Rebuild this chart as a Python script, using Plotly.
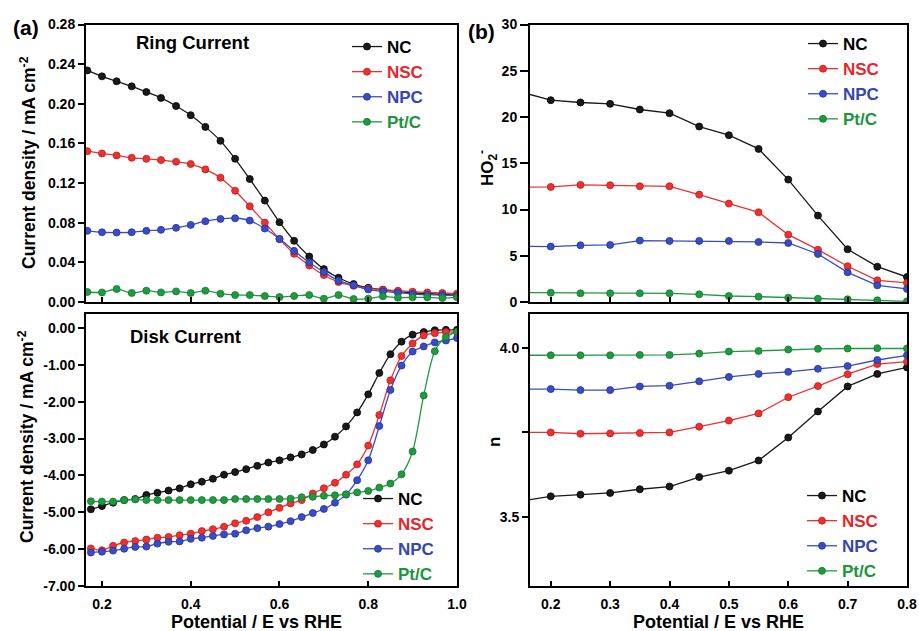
import plotly.graph_objects as go

# ---------------- data ----------------
SERIES = ["NC", "NSC", "NPC", "Pt/C"]

# (a) top: ring current, mA cm-2
RING_E = [0.167, 0.2, 0.233, 0.267, 0.3, 0.333, 0.367, 0.4, 0.433, 0.467, 0.5, 0.533, 0.567,
          0.6, 0.633, 0.667, 0.7, 0.733, 0.767, 0.8, 0.833, 0.867, 0.9, 0.933, 0.967, 1.0]
RING_NC = [0.2337, 0.2277, 0.2227, 0.2176, 0.2119, 0.2059, 0.1978, 0.1885, 0.1767, 0.1626, 0.1445,
           0.1241, 0.1023, 0.0805, 0.0617, 0.0459, 0.0332, 0.0245, 0.0181, 0.0144, 0.0124, 0.0107,
           0.0091, 0.0084, 0.0077, 0.0070]
RING_NSC = [0.1522, 0.1499, 0.1479, 0.1455, 0.1445, 0.1432, 0.1415, 0.1392, 0.1338, 0.1254, 0.1123,
            0.0966, 0.0801, 0.0634, 0.0486, 0.0369, 0.0272, 0.0201, 0.0164, 0.0137, 0.0124, 0.0114,
            0.0104, 0.0097, 0.0091, 0.0084]
RING_NPC = [0.0718, 0.0704, 0.0701, 0.0704, 0.0718, 0.0728, 0.0748, 0.0778, 0.0815, 0.0838, 0.0845,
            0.0822, 0.0741, 0.0637, 0.0516, 0.0399, 0.0302, 0.0215, 0.0168, 0.0127, 0.0107, 0.0094,
            0.0080, 0.0074, 0.0070, 0.0064]
RING_PTC = [0.0101, 0.0097, 0.0131, 0.0091, 0.0114, 0.0097, 0.0107, 0.0091, 0.0114, 0.0084, 0.0070,
            0.0070, 0.0060, 0.0050, 0.0060, 0.0070, 0.0034, 0.0070, 0.0030, 0.0034, 0.0057, 0.0044,
            0.0047, 0.0047, 0.0040, 0.0047]

# (a) bottom: disk current, mA cm-2
DISK_E = [0.175, 0.2, 0.225, 0.25, 0.275, 0.3, 0.325, 0.35, 0.375, 0.4, 0.425, 0.45, 0.475, 0.5,
          0.525, 0.55, 0.575, 0.6, 0.625, 0.65, 0.675, 0.7, 0.725, 0.75, 0.775, 0.8, 0.825, 0.85,
          0.875, 0.9, 0.925, 0.95, 0.975, 1.0]
DISK_NC = [-4.92, -4.83, -4.74, -4.67, -4.64, -4.53, -4.47, -4.41, -4.35, -4.24, -4.17, -4.09, -3.98,
           -3.91, -3.83, -3.74, -3.65, -3.59, -3.51, -3.43, -3.31, -3.16, -2.95, -2.67, -2.29, -1.80,
           -1.22, -0.71, -0.37, -0.18, -0.11, -0.06, -0.05, -0.05]
DISK_NSC = [-5.98, -6.03, -5.91, -5.82, -5.78, -5.74, -5.69, -5.67, -5.62, -5.58, -5.51, -5.46, -5.39,
            -5.30, -5.23, -5.13, -5.00, -4.88, -4.76, -4.67, -4.49, -4.35, -4.20, -3.98, -3.70, -3.19,
            -2.36, -1.42, -0.76, -0.42, -0.20, -0.14, -0.11, -0.11]
DISK_NPC = [-6.09, -6.07, -6.04, -5.99, -5.94, -5.93, -5.85, -5.80, -5.79, -5.72, -5.69, -5.64, -5.60,
            -5.58, -5.49, -5.43, -5.39, -5.32, -5.24, -5.13, -5.02, -4.91, -4.74, -4.52, -4.13, -3.59,
            -2.66, -1.68, -1.02, -0.64, -0.50, -0.39, -0.34, -0.27]
DISK_PTC = [-4.70, -4.71, -4.71, -4.67, -4.65, -4.67, -4.67, -4.67, -4.67, -4.67, -4.67, -4.67, -4.67,
            -4.64, -4.64, -4.64, -4.64, -4.64, -4.63, -4.59, -4.58, -4.55, -4.54, -4.51, -4.46, -4.42,
            -4.33, -4.22, -3.97, -3.35, -1.83, -0.63, -0.24, -0.10]

# (b) top: HO2- (%), (b) bottom: electron transfer number n
KL_E = [0.15, 0.2, 0.25, 0.3, 0.35, 0.4, 0.45, 0.5, 0.55, 0.6, 0.65, 0.7, 0.75, 0.8]
HO2_NC = [22.69, 21.82, 21.57, 21.42, 20.81, 20.41, 18.97, 18.03, 16.55, 13.23, 9.34, 5.70, 3.82, 2.70]
HO2_NSC = [12.40, 12.44, 12.66, 12.62, 12.51, 12.51, 11.61, 10.64, 9.70, 7.28, 5.66, 3.86, 2.34, 2.06]
HO2_NPC = [6.03, 5.99, 6.13, 6.17, 6.64, 6.60, 6.60, 6.60, 6.49, 6.38, 5.19, 3.21, 1.80, 1.41]
HO2_PTC = [1.01, 1.01, 0.94, 0.94, 0.94, 0.94, 0.83, 0.65, 0.58, 0.47, 0.36, 0.29, 0.18, 0.07]
N_NC = [3.547, 3.561, 3.566, 3.571, 3.582, 3.590, 3.618, 3.637, 3.667, 3.735, 3.812, 3.886, 3.923, 3.942]
N_NSC = [3.750, 3.750, 3.746, 3.747, 3.748, 3.750, 3.767, 3.785, 3.806, 3.854, 3.887, 3.922, 3.952, 3.959]
N_NPC = [3.878, 3.878, 3.875, 3.875, 3.886, 3.888, 3.901, 3.914, 3.923, 3.929, 3.938, 3.946, 3.964, 3.978]
N_PTC = [3.978, 3.978, 3.978, 3.978, 3.979, 3.979, 3.983, 3.989, 3.991, 3.995, 3.997, 3.998, 3.999, 3.998]

# tick labels
RING_TICKS = [0.0, 0.04, 0.08, 0.12, 0.16, 0.20, 0.24, 0.28]
RING_TICKTEXT = ["0.00", "0.04", "0.08", "0.12", "0.16", "0.20", "0.24", "0.28"]
DISK_TICKS = [0, -1, -2, -3, -4, -5, -6, -7]
DISK_TICKTEXT = ["0.00", "-1.00", "-2.00", "-3.00", "-4.00", "-5.00", "-6.00", "-7.00"]
LEFT_XTICKS = [0.2, 0.4, 0.6, 0.8, 1.0]
LEFT_XTICKTEXT = ["0.2", "0.4", "0.6", "0.8", "1.0"]
HO2_TICKS = [0, 5, 10, 15, 20, 25, 30]
N_TICKS = [3.5, 3.75, 4.0]
N_TICKTEXT = ["3.5", " ", "4.0"]
RIGHT_XTICKS = [0.2, 0.3, 0.4, 0.5, 0.6, 0.7, 0.8]

# ---------------- style ----------------
FONT = "Arial, Liberation Sans, sans-serif"
LINE_COLORS = {"NC": "#1a1a1a", "NSC": "#ee3030", "NPC": "#3a4cc4", "Pt/C": "#1f9a40"}
EDGE_COLORS = {"NC": "#000000", "NSC": "#c81818", "NPC": "#24339a", "Pt/C": "#117a2c"}
TEXT_COLORS = {"NC": "#000000", "NSC": "#e5262c", "NPC": "#3446b0", "Pt/C": "#1b963a"}

W, H = 919, 631


def px_x(p):
    return p / W


def px_y(p):
    return 1 - p / H


fig = go.Figure()

panels = [
    ("x", "y", "legend", RING_E, [RING_NC, RING_NSC, RING_NPC, RING_PTC]),
    ("x2", "y2", "legend2", DISK_E, [DISK_NC, DISK_NSC, DISK_NPC, DISK_PTC]),
    ("x3", "y3", "legend3", KL_E, [HO2_NC, HO2_NSC, HO2_NPC, HO2_PTC]),
    ("x4", "y4", "legend4", KL_E, [N_NC, N_NSC, N_NPC, N_PTC]),
]

for xa, ya, lg, xs, ys_list in panels:
    smooth = xa in ("x", "x2")
    for name, ys in zip(SERIES, ys_list):
        fig.add_trace(go.Scatter(
            x=xs, y=ys, xaxis=xa, yaxis=ya, legend=lg,
            mode="lines+markers",
            name=f"<b><span style='color:{TEXT_COLORS[name]}'>{name}</span></b>",
            line=dict(color=LINE_COLORS[name], width=1.3,
                      shape="spline" if smooth else "linear", smoothing=0.8),
            marker=dict(symbol="circle", size=7, color=LINE_COLORS[name],
                        line=dict(color=EDGE_COLORS[name], width=0.8)),
        ))

axis_common = dict(
    showline=True, linecolor="black", linewidth=2, mirror=True,
    showgrid=False, zeroline=False,
    tickfont=dict(family=FONT, size=14, color="black", weight="bold"),
    tickcolor="black", tickwidth=1.5,
)

left_dom = [px_x(86), px_x(457)]
right_dom = [px_x(530), px_x(907)]
top_dom = [px_y(302), px_y(24.5)]
bot_dom = [px_y(586), px_y(314)]

fig.update_layout(
    width=W, height=H,
    margin=dict(l=0, r=0, t=0, b=0),
    paper_bgcolor="white", plot_bgcolor="white",
    template="none",
    font=dict(family=FONT, color="black"),
    xaxis=dict(domain=left_dom, anchor="y", range=[0.164, 1.0], tickvals=LEFT_XTICKS,
               ticks="inside", ticklen=5, showticklabels=False, **axis_common),
    yaxis=dict(domain=top_dom, anchor="x", range=[0, 0.28], tickvals=RING_TICKS,
               ticktext=RING_TICKTEXT, ticks="outside", ticklen=6, **axis_common),
    xaxis2=dict(domain=left_dom, anchor="y2", range=[0.164, 1.0], tickvals=LEFT_XTICKS,
                ticktext=LEFT_XTICKTEXT, ticks="inside", ticklen=5, ticklabelstandoff=4,
                **axis_common),
    yaxis2=dict(domain=bot_dom, anchor="x2", range=[-7, 0.38], tickvals=DISK_TICKS,
                ticktext=DISK_TICKTEXT, ticks="outside", ticklen=6, **axis_common),
    xaxis3=dict(domain=right_dom, anchor="y3", range=[0.165, 0.8], tickvals=RIGHT_XTICKS,
                ticks="inside", ticklen=5, showticklabels=False, **axis_common),
    yaxis3=dict(domain=top_dom, anchor="x3", range=[0, 30], tickvals=HO2_TICKS,
                ticks="outside", ticklen=8, **axis_common),
    xaxis4=dict(domain=right_dom, anchor="y4", range=[0.165, 0.8], tickvals=RIGHT_XTICKS,
                ticks="inside", ticklen=5, ticklabelstandoff=4, **axis_common),
    yaxis4=dict(domain=bot_dom, anchor="x4", range=[3.296, 4.1], tickvals=N_TICKS,
                ticktext=N_TICKTEXT, ticks="outside", ticklen=6, **axis_common),
    showlegend=True,
)

legend_common = dict(bgcolor="rgba(0,0,0,0)", borderwidth=0, xanchor="left", yanchor="top",
                     font=dict(family=FONT, size=17), traceorder="normal",
                     itemclick=False, itemdoubleclick=False)
fig.update_layout(
    legend=dict(x=px_x(347), y=px_y(29), **legend_common),
    legend2=dict(x=px_x(358), y=px_y(481), **legend_common),
    legend3=dict(x=px_x(803), y=px_y(26), **legend_common),
    legend4=dict(x=px_x(802), y=px_y(478), **legend_common),
)

ann_font = dict(family=FONT, color="black", weight="bold")
annotations = [
    dict(text="(a)", x=px_x(26), y=px_y(28), font=dict(size=21, **ann_font)),
    dict(text="(b)", x=px_x(481), y=px_y(31), font=dict(size=21, **ann_font)),
    dict(text="Ring Current", x=px_x(192), y=px_y(42), font=dict(size=18.5, **ann_font)),
    dict(text="Disk Current", x=px_x(185), y=px_y(336), font=dict(size=18.5, **ann_font)),
    dict(text="Current density / mA cm<sup>-2</sup>", x=px_x(28), y=px_y(163), textangle=-90,
         font=dict(size=17.5, **ann_font)),
    dict(text="Current density / mA cm<sup>-2</sup>", x=px_x(26), y=px_y(437), textangle=-90,
         font=dict(size=17.5, **ann_font)),
    dict(text="HO<sub>2</sub><sup>-</sup>", x=px_x(487), y=px_y(168), textangle=-90,
         font=dict(size=17, **ann_font)),
    dict(text="n", x=px_x(494), y=px_y(442), textangle=-90, font=dict(size=17, **ann_font)),
    dict(text="Potential / E vs RHE", x=px_x(256), y=px_y(622), font=dict(size=18, **ann_font)),
    dict(text="Potential / E vs RHE", x=px_x(718), y=px_y(622), font=dict(size=18, **ann_font)),
]
for a in annotations:
    a.update(xref="paper", yref="paper", showarrow=False, xanchor="center", yanchor="middle")
fig.update_layout(annotations=annotations)

fig.write_html("out.html", config={"displayModeBar": False},
               post_script="document.body.style.margin='0';document.body.style.overflow='hidden';")
